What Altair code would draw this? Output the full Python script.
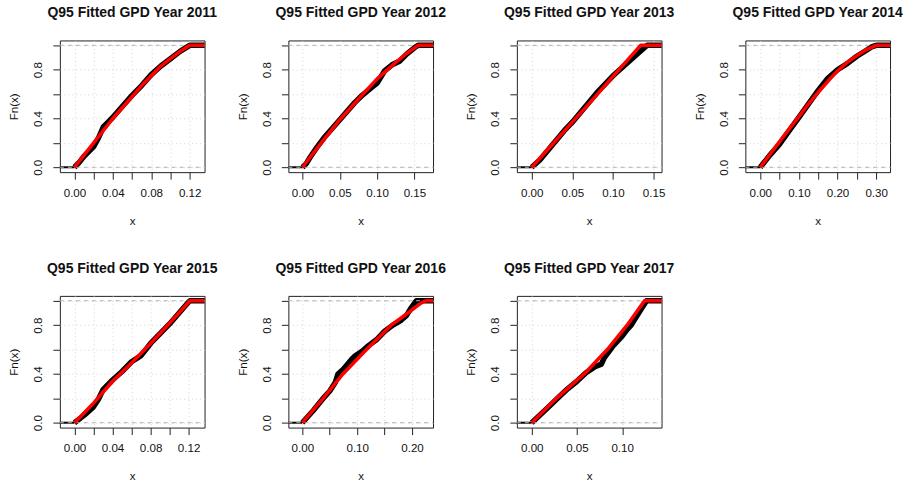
import json
import altair as alt
import pandas as pd

# ---------------- data ----------------
years = [2011, 2012, 2013, 2014, 2015, 2016, 2017]

ecdf_x_2011 = [-0.0152, 0.0, 0.005, 0.01, 0.02, 0.025, 0.03, 0.035, 0.04, 0.05, 0.06, 0.07, 0.08, 0.09, 0.10, 0.11, 0.12, 0.1355]
ecdf_F_2011 = [0, 0, 0.04, 0.09, 0.17, 0.24, 0.33, 0.37, 0.41, 0.50, 0.59, 0.67, 0.76, 0.83, 0.89, 0.95, 1.0, 1.0]
fit_x_2011 = [0, 0.01, 0.02, 0.03, 0.04, 0.05, 0.06, 0.07, 0.08, 0.09, 0.10, 0.11, 0.12, 0.1355]
fit_F_2011 = [0, 0.10, 0.20, 0.30, 0.40, 0.49, 0.58, 0.67, 0.75, 0.83, 0.89, 0.95, 1.0, 1.0]

ecdf_x_2012 = [-0.019, 0, 0.005, 0.01, 0.02, 0.03, 0.04, 0.05, 0.06, 0.07, 0.08, 0.09, 0.10, 0.105, 0.11, 0.12, 0.13, 0.14, 0.15, 0.155, 0.175]
ecdf_F_2012 = [0, 0, 0.03, 0.08, 0.17, 0.25, 0.32, 0.39, 0.46, 0.53, 0.59, 0.64, 0.69, 0.74, 0.79, 0.84, 0.87, 0.93, 0.98, 1.0, 1.0]
fit_x_2012 = [0, 0.025, 0.05, 0.075, 0.10, 0.125, 0.14, 0.155, 0.175]
fit_F_2012 = [0, 0.20, 0.39, 0.56, 0.725, 0.86, 0.935, 1.0, 1.0]

ecdf_x_2013 = [-0.0183, 0, 0.01, 0.02, 0.03, 0.04, 0.05, 0.06, 0.07, 0.08, 0.09, 0.10, 0.11, 0.12, 0.13, 0.137, 0.142, 0.1598]
ecdf_F_2013 = [0, 0, 0.06, 0.14, 0.22, 0.30, 0.37, 0.45, 0.53, 0.61, 0.68, 0.75, 0.81, 0.87, 0.93, 0.97, 1.0, 1.0]
fit_x_2013 = [0, 0.025, 0.05, 0.075, 0.10, 0.12, 0.134, 0.1598]
fit_F_2013 = [0, 0.185, 0.37, 0.555, 0.745, 0.895, 1.0, 1.0]

ecdf_x_2014 = [-0.0386, 0, 0.025, 0.05, 0.075, 0.10, 0.125, 0.15, 0.175, 0.20, 0.225, 0.25, 0.275, 0.29, 0.30, 0.336]
ecdf_F_2014 = [0, 0, 0.10, 0.19, 0.30, 0.41, 0.52, 0.63, 0.73, 0.80, 0.85, 0.91, 0.96, 0.99, 1.0, 1.0]
fit_x_2014 = [0, 0.025, 0.05, 0.075, 0.10, 0.125, 0.15, 0.175, 0.20, 0.225, 0.25, 0.275, 0.30, 0.336]
fit_F_2014 = [0, 0.105, 0.21, 0.315, 0.415, 0.52, 0.615, 0.705, 0.79, 0.86, 0.915, 0.965, 1.0, 1.0]

ecdf_x_2015 = [-0.0154, 0, 0.01, 0.02, 0.025, 0.03, 0.04, 0.05, 0.06, 0.07, 0.08, 0.09, 0.10, 0.11, 0.12, 0.1215, 0.1368]
ecdf_F_2015 = [0, 0, 0.06, 0.13, 0.19, 0.27, 0.35, 0.42, 0.50, 0.55, 0.65, 0.73, 0.81, 0.90, 0.99, 1.0, 1.0]
fit_x_2015 = [0, 0.02, 0.04, 0.06, 0.08, 0.10, 0.1215, 0.1368]
fit_F_2015 = [0, 0.16, 0.34, 0.49, 0.65, 0.815, 1.0, 1.0]

ecdf_x_2016 = [-0.0255, 0, 0.02, 0.04, 0.05, 0.06, 0.065, 0.075, 0.09, 0.0955, 0.10, 0.11, 0.12, 0.135, 0.15, 0.165, 0.18, 0.19, 0.198, 0.208, 0.2383]
ecdf_F_2016 = [0, 0, 0.10, 0.21, 0.26, 0.33, 0.40, 0.44, 0.52, 0.545, 0.56, 0.59, 0.63, 0.68, 0.75, 0.80, 0.84, 0.88, 0.94, 1.0, 1.0]
fit_x_2016 = [0, 0.038, 0.074, 0.117, 0.162, 0.185, 0.20, 0.21, 0.218, 0.225, 0.2383]
fit_F_2016 = [0, 0.2, 0.4, 0.6, 0.8, 0.875, 0.925, 0.96, 0.985, 1.0, 1.0]

ecdf_x_2017 = [-0.0165, 0, 0.01, 0.02, 0.03, 0.04, 0.05, 0.06, 0.07, 0.077, 0.08, 0.09, 0.10, 0.105, 0.11, 0.12, 0.127, 0.1436]
ecdf_F_2017 = [0, 0, 0.07, 0.14, 0.21, 0.28, 0.34, 0.41, 0.46, 0.48, 0.53, 0.63, 0.71, 0.76, 0.80, 0.92, 1.0, 1.0]
fit_x_2017 = [0, 0.0273, 0.058, 0.0836, 0.1055, 0.1247, 0.1436]
fit_F_2017 = [0, 0.2, 0.4, 0.6, 0.8, 1.0, 1.0]

# x-axis domains, tick positions and the tick labels that are printed
x_domain = {
    2011: [-0.0152, 0.1355], 2012: [-0.019, 0.175], 2013: [-0.0183, 0.1598],
    2014: [-0.0386, 0.336], 2015: [-0.0154, 0.1368], 2016: [-0.0255, 0.2383],
    2017: [-0.0165, 0.1436],
}
x_ticks = {
    2011: [0, 0.02, 0.04, 0.06, 0.08, 0.10, 0.12],
    2012: [0, 0.05, 0.10, 0.15],
    2013: [0, 0.05, 0.10, 0.15],
    2014: [0, 0.05, 0.10, 0.15, 0.20, 0.25, 0.30],
    2015: [0, 0.02, 0.04, 0.06, 0.08, 0.10, 0.12],
    2016: [0, 0.05, 0.10, 0.15, 0.20],
    2017: [0, 0.05, 0.10],
}
x_labels = {
    2011: ["0.00", "0.04", "0.08", "0.12"],
    2012: ["0.00", "0.05", "0.10", "0.15"],
    2013: ["0.00", "0.05", "0.10", "0.15"],
    2014: ["0.00", "0.10", "0.20", "0.30"],
    2015: ["0.00", "0.04", "0.08", "0.12"],
    2016: ["0.00", "0.10", "0.20"],
    2017: ["0.00", "0.05", "0.10"],
}
y_ticks = [0, 0.2, 0.4, 0.6, 0.8, 1.0]
y_labels = ["0.0", "0.4", "0.8"]
ref_levels = [0, 1]

series = {
    2011: (ecdf_x_2011, ecdf_F_2011, fit_x_2011, fit_F_2011),
    2012: (ecdf_x_2012, ecdf_F_2012, fit_x_2012, fit_F_2012),
    2013: (ecdf_x_2013, ecdf_F_2013, fit_x_2013, fit_F_2013),
    2014: (ecdf_x_2014, ecdf_F_2014, fit_x_2014, fit_F_2014),
    2015: (ecdf_x_2015, ecdf_F_2015, fit_x_2015, fit_F_2015),
    2016: (ecdf_x_2016, ecdf_F_2016, fit_x_2016, fit_F_2016),
    2017: (ecdf_x_2017, ecdf_F_2017, fit_x_2017, fit_F_2017),
}

# ---------------- styling ----------------
W, H = 145, 132
FONT = "Liberation Sans"
FS = 11.6


def panel(year):
    ex, ey, fx, fy = series[year]
    ecdf = pd.DataFrame({"x": ex, "F": ey, "o": list(range(len(ex)))})
    fit = pd.DataFrame({"x": fx, "F": fy, "o": list(range(len(fx)))})
    tail = ecdf.iloc[:2]
    body = ecdf.iloc[1:]
    refs = pd.DataFrame({"F": ref_levels})

    xs = alt.Scale(domain=x_domain[year], nice=False, zero=False)
    ys = alt.Scale(domain=[-0.04, 1.04], nice=False, zero=False)

    xaxis = alt.Axis(
        values=x_ticks[year], format=".2f",
        labelExpr="indexof(%s, datum.label) >= 0 ? datum.label : ''" % json.dumps(x_labels[year]),
        title="x", titleX=W / 2, titleY=52, titleAlign="center", titleBaseline="alphabetic",
        labelPadding=8, labelBaseline="top",
    )
    yaxis = alt.Axis(
        values=y_ticks, format=".1f",
        labelExpr="indexof(%s, datum.label) >= 0 ? datum.label : ''" % json.dumps(y_labels),
        labelAngle=270, labelAlign="center", labelBaseline="middle", labelPadding=14,
        title="Fn(x)", titleAngle=270, titleX=-42, titleY=H / 2,
        titleAlign="center", titleBaseline="alphabetic",
    )

    def X():
        return alt.X("x:Q", scale=xs, axis=xaxis)

    def Y():
        return alt.Y("F:Q", scale=ys, axis=yaxis)

    tail_l = alt.Chart(tail).mark_line(color="black", strokeWidth=2).encode(
        x=X(), y=Y(), order="o:Q",
    )
    body_l = alt.Chart(body).mark_line(color="black", strokeWidth=5.5, strokeJoin="round").encode(
        x=X(), y=Y(), order="o:Q",
    )
    ref_l = alt.Chart(refs).mark_rule(color="#b3b3b3", strokeWidth=1, strokeDash=[4, 4]).encode(
        y=Y(), x=alt.value(0), x2=alt.value(W),
    )
    fit_l = alt.Chart(fit).mark_line(color="#ff0000", strokeWidth=3.5, strokeJoin="round").encode(
        x=X(), y=Y(), order="o:Q",
    )
    return alt.layer(tail_l, body_l, ref_l, fit_l).properties(
        width=W, height=H,
        title=alt.TitleParams(f"Q95 Fitted GPD Year {year}"),
    )


chart = alt.concat(
    *[panel(y) for y in years],
    columns=4,
    spacing={"row": 124, "column": 84},
    bounds="flush",
).properties(
    padding={"left": 8, "top": 5, "right": 5, "bottom": 0},
    background="white",
).configure_view(
    stroke="#222222", strokeWidth=1,
).configure_axis(
    domain=False, tickColor="#222222", tickSize=7, tickWidth=1,
    labelFont=FONT, labelFontSize=FS, labelColor="#111111",
    labelOverlap=False, labelFlush=False, labelBound=False,
    titleFont=FONT, titleFontSize=FS, titleFontWeight="normal", titleColor="#111111",
    grid=True, gridColor="#d3d3d3", gridDash=[1, 3], gridWidth=1,
).configure_title(
    font=FONT, fontSize=14, fontWeight="bold", color="#111111",
    anchor="middle", baseline="alphabetic", offset=20, frame="group",
)

chart.save("out.html", embed_options={"renderer": "svg", "actions": False})
